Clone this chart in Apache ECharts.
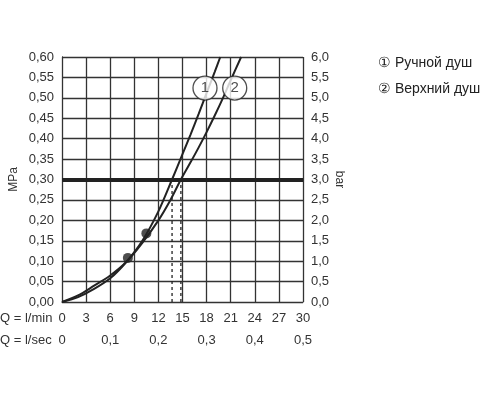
<!DOCTYPE html>
<html><head><meta charset="utf-8">
<script src="https://cdn.jsdelivr.net/npm/echarts@6/dist/echarts.min.js"></script>
<style>html,body{margin:0;padding:0;background:#fff}#c{width:500px;height:400px}</style>
</head><body><div id="c"></div>
<script>
const curve1 = [[0,0],[2,0.012],[4,0.032],[6,0.058],[8,0.098],[10,0.15],[12,0.222],[13.7,0.3],[15,0.362],[16,0.41],[17,0.46],[18,0.512],[19,0.563],[19.7,0.6]];
const curve2 = [[0,0],[2,0.016],[4,0.04],[6,0.065],[8,0.098],[10,0.145],[12,0.2],[13.5,0.25],[14.8,0.3],[16,0.342],[17,0.378],[18,0.416],[19,0.456],[20,0.498],[21,0.543],[22.3,0.6]];
const dots = [[8.2,0.108],[10.5,0.168]];
const dashX = [13.7,14.8];
const refP = 0.3;
const secLabels = {0:'0',6:'0,1',12:'0,2',18:'0,3',24:'0,4',30:'0,5'};
const labels = [{n:'1',q:17.8,p:0.524},{n:'2',q:21.5,p:0.524}];
const legendItems = ['① Ручной душ','② Верхний душ'];
const F = 'Liberation Sans';
const fmt = (v,d)=>v.toFixed(d).replace('.',',');
const c = echarts.init(document.getElementById('c'));
const tc = '#333';
c.setOption({
  animation:false,
  textStyle:{fontFamily:F},
  grid:{left:62,right:197,top:57,bottom:98},
  xAxis:[
    {type:'value',min:0,max:30,interval:3,position:'bottom',
     axisLine:{lineStyle:{color:'#333'}},axisTick:{show:false},
     splitLine:{lineStyle:{color:'#333',width:1.3}},
     axisLabel:{color:tc,fontSize:13,margin:10}},
    {type:'value',min:0,max:30,interval:3,position:'bottom',offset:22,
     axisLine:{show:false},axisTick:{show:false},splitLine:{show:false},
     axisLabel:{color:tc,fontSize:13,margin:10,formatter:v=>secLabels[v]!==undefined?secLabels[v]:''}}
  ],
  yAxis:[
    {type:'value',min:0,max:0.6,interval:0.05,name:'MPa',nameLocation:'middle',nameGap:42,nameRotate:90,
     nameTextStyle:{color:tc,fontSize:12},
     axisLine:{show:true,lineStyle:{color:'#333'}},axisTick:{show:false},
     splitLine:{lineStyle:{color:'#333',width:1.3}},
     axisLabel:{color:tc,fontSize:13,formatter:v=>fmt(v,2)}},
    {type:'value',min:0,max:6,interval:0.5,name:'bar',nameLocation:'middle',nameGap:28,nameRotate:-90,
     nameTextStyle:{color:tc,fontSize:12},
     axisLine:{show:true,lineStyle:{color:'#333'}},axisTick:{show:false},splitLine:{show:false},
     axisLabel:{color:tc,fontSize:13,formatter:v=>fmt(v,1)}}
  ],
  series:[
    {type:'line',data:curve1,smooth:0.3,symbol:'none',lineStyle:{color:'#222',width:2},
     markLine:{silent:true,symbol:'none',label:{show:false},lineStyle:{color:'#222',width:4,type:'solid'},data:[{yAxis:refP}]}},
    {type:'line',data:curve2,smooth:0.3,symbol:'none',lineStyle:{color:'#222',width:2}},
    {type:'scatter',data:dots,symbolSize:10,itemStyle:{color:'#222'}},
    {type:'line',data:[[dashX[0],0],[dashX[0],refP]],symbol:'none',lineStyle:{color:'#222',width:1.3,type:[3,3]}},
    {type:'line',data:[[dashX[1],0],[dashX[1],refP]],symbol:'none',lineStyle:{color:'#222',width:1.3,type:[3,3]}},
    {type:'scatter',z:10,data:labels.map(l=>[l.q,l.p,l.n]),symbolSize:24,
     itemStyle:{color:'#fff',borderColor:'#222',borderWidth:1.3},
     label:{show:true,position:'inside',formatter:p=>p.data[2],color:'#222',fontSize:15}}
  ],
  graphic:[
    {type:'text',left:0,top:312,style:{text:'Q = l/min',fontSize:13,fill:tc,fontFamily:F}},
    {type:'text',left:0,top:334,style:{text:'Q = l/sec',fontSize:13,fill:tc,fontFamily:F}},
    {type:'text',left:378,top:56,style:{text:legendItems[0],fontSize:14,fill:'#222',fontFamily:F}},
    {type:'text',left:378,top:82,style:{text:legendItems[1],fontSize:14,fill:'#222',fontFamily:F}}
  ]
});
</script></body></html>
